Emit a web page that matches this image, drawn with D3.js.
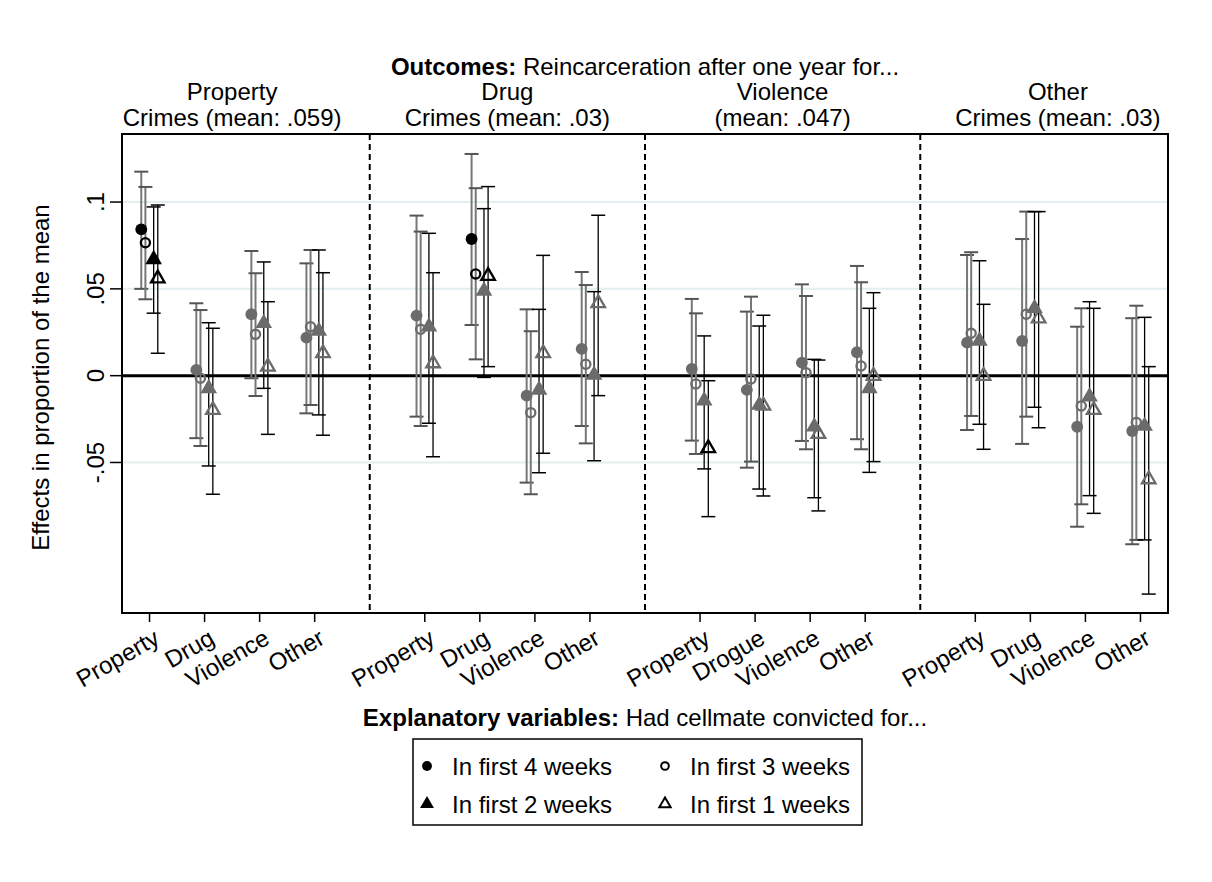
<!DOCTYPE html>
<html lang="en">
<head>
    <meta charset="UTF-8">
    <title>Cellmate effects on reincarceration</title>
    <style>
        body {
            margin: 0;
            background-color: #fff;
        }
        svg text {
            font-family: "Liberation Sans", Arial, Helvetica, sans-serif;
            fill: #000;
        }
    </style>
    <script src="https://d3js.org/d3.v7.min.js"></script>
</head>
<body>
    <svg id="chart" width="1212" height="882"></svg>
    <script>
        // Outcome panels (two title lines each)
        const outcomes = [
            ["Property", "Crimes (mean: .059)"],
            ["Drug", "Crimes (mean: .03)"],
            ["Violence", "(mean: .047)"],
            ["Other", "Crimes (mean: .03)"]
        ];

        // Explanatory variable labels, per panel
        const explanatory = [
            ["Property", "Drug", "Violence", "Other"],
            ["Property", "Drug", "Violence", "Other"],
            ["Property", "Drogue", "Violence", "Other"],
            ["Property", "Drug", "Violence", "Other"]
        ];

        const seriesNames = ["In first 4 weeks", "In first 3 weeks", "In first 2 weeks", "In first 1 weeks"];

        // Point estimates and confidence bounds, 16 per series (panel by panel)
        const est4 = [0.0843, 0.0033, 0.0354, 0.0219, 0.0346, 0.0787, -0.0115, 0.0154, 0.0039, -0.0082, 0.0075, 0.0135, 0.019, 0.02, -0.0294, -0.0319];
        const lo4 = [0.050, -0.036, -0.0015, -0.0217, -0.0236, 0.0292, -0.0616, -0.029, -0.0374, -0.053, -0.0376, -0.0366, -0.0313, -0.0393, -0.087, -0.0971];
        const hi4 = [0.1175, 0.0417, 0.0718, 0.0647, 0.0922, 0.1277, 0.0382, 0.0597, 0.0442, 0.0369, 0.0526, 0.0632, 0.0695, 0.0787, 0.0282, 0.0331];

        const est3 = [0.0766, -0.0015, 0.0238, 0.0282, 0.0267, 0.0586, -0.0213, 0.0066, -0.0048, -0.0019, 0.0017, 0.0056, 0.0244, 0.0354, -0.0175, -0.0269];
        const lo3 = [0.044, -0.0405, -0.0117, -0.0169, -0.029, 0.0094, -0.0683, -0.039, -0.0451, -0.0495, -0.0424, -0.0424, -0.0232, -0.0236, -0.0741, -0.0946];
        const hi3 = [0.1087, 0.0378, 0.059, 0.0724, 0.083, 0.108, 0.0256, 0.0522, 0.0359, 0.0455, 0.0459, 0.0538, 0.0711, 0.0945, 0.0388, 0.0403];

        const est2 = [0.067, -0.0073, 0.0302, 0.0257, 0.0282, 0.0488, -0.0082, 0.0004, -0.0144, -0.0169, -0.0294, -0.0073, 0.02, 0.0388, -0.0121, -0.029];
        const lo2 = [0.036, -0.052, -0.0073, -0.0226, -0.0274, -0.001, -0.0559, -0.049, -0.0537, -0.0653, -0.0703, -0.0557, -0.028, -0.0182, -0.0691, -0.0946];
        const hi2 = [0.0972, 0.0305, 0.0655, 0.0724, 0.082, 0.0962, 0.0382, 0.0484, 0.0229, 0.0286, 0.0094, 0.0388, 0.0662, 0.0945, 0.0426, 0.0336];

        const est1 = [0.056, -0.0198, 0.0052, 0.0129, 0.0071, 0.0574, 0.0129, 0.0417, -0.0418, -0.0173, -0.0336, -0.0002, -0.0002, 0.033, -0.0198, -0.0597];
        const lo1 = [0.0129, -0.0683, -0.0338, -0.0343, -0.0467, 0.0052, -0.0447, -0.0115, -0.0812, -0.0693, -0.0779, -0.0495, -0.0424, -0.03, -0.0793, -0.1258];
        const hi1 = [0.0983, 0.0273, 0.0426, 0.0593, 0.0593, 0.1089, 0.0693, 0.0924, -0.0029, 0.0348, 0.009, 0.0478, 0.0411, 0.0945, 0.0388, 0.0052];

        const yTicks = [-0.05, 0, 0.05, 0.1];
        const yTickLabels = ["-.05", "0", ".05", ".1"];

        const svg = d3.select("#chart");
        const plotLeft = 122, plotRight = 1168, plotTop = 134, plotBottom = 613;
        const grey = "#6b6b6b";
        const fontSize = 24;

        const x = d3.scaleLinear().domain([0.5, 19.5]).range([plotLeft, plotRight]);
        const y = d3.scaleLinear().domain([-0.1367, 0.1392]).range([plotBottom, plotTop]);

        // group positions: 1-4, 6-9, 11-14, 16-19
        const pos = d3.range(16).map(i => Math.floor(i / 4) * 5 + (i % 4) + 1);
        const offsets = [-0.15, -0.075, 0.075, 0.15];

        const series = [
            { name: seriesNames[0], est: est4, lo: lo4, hi: hi4, shape: "circle", filled: true },
            { name: seriesNames[1], est: est3, lo: lo3, hi: hi3, shape: "circle", filled: false },
            { name: seriesNames[2], est: est2, lo: lo2, hi: hi2, shape: "triangle", filled: true },
            { name: seriesNames[3], est: est1, lo: lo1, hi: hi1, shape: "triangle", filled: false }
        ];

        // gridlines
        svg.append("g").selectAll("line")
            .data(yTicks.filter(d => d !== 0))
            .join("line")
            .attr("x1", plotLeft).attr("x2", plotRight)
            .attr("y1", d => y(d)).attr("y2", d => y(d))
            .attr("stroke", "#e3eef0").attr("stroke-width", 2);

        // zero line
        svg.append("line")
            .attr("x1", plotLeft).attr("x2", plotRight)
            .attr("y1", y(0)).attr("y2", y(0))
            .attr("stroke", "#000").attr("stroke-width", 3);

        // panel dividers
        svg.append("g").selectAll("line")
            .data([5, 10, 15])
            .join("line")
            .attr("x1", d => x(d)).attr("x2", d => x(d))
            .attr("y1", plotTop).attr("y2", plotBottom)
            .attr("stroke", "#000").attr("stroke-width", 2)
            .attr("stroke-dasharray", "6,4");

        // error bars
        const capHalf = 7;
        series.forEach((s, si) => {
            const thick = si < 2;
            const g = svg.append("g");
            const rows = d3.range(16).map(i => ({ x: x(pos[i] + offsets[si]), lo: s.lo[i], hi: s.hi[i] }));
            g.selectAll("line.bar").data(rows).join("line")
                .attr("class", "bar")
                .attr("x1", d => d.x).attr("x2", d => d.x)
                .attr("y1", d => y(d.lo)).attr("y2", d => y(d.hi))
                .attr("stroke", thick ? "#777" : "#000")
                .attr("stroke-width", thick ? 2 : 1.3);
            ["lo", "hi"].forEach(k => {
                g.selectAll("line.cap" + k).data(rows).join("line")
                    .attr("class", "cap" + k)
                    .attr("x1", d => d.x - capHalf).attr("x2", d => d.x + capHalf)
                    .attr("y1", d => y(d[k])).attr("y2", d => y(d[k]))
                    .attr("stroke", thick ? "#555" : "#000")
                    .attr("stroke-width", thick ? 2 : 1.5);
            });
        });

        // markers
        function markerPath(shape, filled, scale) {
            if (shape === "circle") {
                return d3.symbol().type(d3.symbolCircle).size((filled ? 110 : 66) * scale)();
            }
            return d3.symbol().type(d3.symbolTriangle).size((filled ? 120 : 80) * scale)();
        }

        series.forEach((s, si) => {
            const rows = d3.range(16).map(i => ({
                x: x(pos[i] + offsets[si]),
                v: s.est[i],
                sig: s.lo[i] > 0 || s.hi[i] < 0
            }));
            svg.append("g").selectAll("path").data(rows).join("path")
                .attr("transform", d => `translate(${d.x},${y(d.v)})`)
                .attr("d", markerPath(s.shape, s.filled, 1))
                .attr("fill", d => s.filled ? (d.sig ? "#000" : grey) : "none")
                .attr("stroke", d => s.filled ? "none" : (d.sig ? "#000" : grey))
                .attr("stroke-width", 2.3);
        });

        // frame
        svg.append("rect")
            .attr("x", plotLeft).attr("y", plotTop)
            .attr("width", plotRight - plotLeft).attr("height", plotBottom - plotTop)
            .attr("fill", "none").attr("stroke", "#000").attr("stroke-width", 2);

        // y axis
        const yAxis = svg.append("g");
        yAxis.selectAll("line").data(yTicks).join("line")
            .attr("x1", plotLeft - 12).attr("x2", plotLeft)
            .attr("y1", d => y(d)).attr("y2", d => y(d))
            .attr("stroke", "#000").attr("stroke-width", 1.5);
        yAxis.selectAll("text").data(yTicks).join("text")
            .attr("transform", d => `translate(${plotLeft - 18},${y(d)}) rotate(-90)`)
            .attr("text-anchor", "middle")
            .attr("font-size", fontSize)
            .text((d, i) => yTickLabels[i]);

        svg.append("text")
            .attr("transform", `translate(49,${(plotTop + plotBottom) / 2 + 4}) rotate(-90)`)
            .attr("text-anchor", "middle")
            .attr("font-size", fontSize)
            .text("Effects in proportion of the mean");

        // x axis ticks and labels
        const xAxis = svg.append("g");
        xAxis.selectAll("line").data(pos).join("line")
            .attr("x1", d => x(d)).attr("x2", d => x(d))
            .attr("y1", plotBottom).attr("y2", plotBottom + 9)
            .attr("stroke", "#000").attr("stroke-width", 1.5);
        xAxis.selectAll("text").data(pos).join("text")
            .attr("transform", d => `translate(${x(d) + 3},${plotBottom + 15}) rotate(-30)`)
            .attr("text-anchor", "end")
            .attr("dy", "0.71em")
            .attr("font-size", fontSize)
            .text((d, i) => explanatory[Math.floor(i / 4)][i % 4]);

        const xTitle = svg.append("text")
            .attr("x", (plotLeft + plotRight) / 2).attr("y", 726)
            .attr("text-anchor", "middle")
            .attr("font-size", fontSize);
        xTitle.append("tspan").attr("font-weight", "bold").text("Explanatory variables:");
        xTitle.append("tspan").text(" Had cellmate convicted for...");

        // top titles
        const topTitle = svg.append("text")
            .attr("x", (plotLeft + plotRight) / 2).attr("y", 75)
            .attr("text-anchor", "middle")
            .attr("font-size", fontSize);
        topTitle.append("tspan").attr("font-weight", "bold").text("Outcomes:");
        topTitle.append("tspan").text(" Reincarceration after one year for...");

        svg.append("g").selectAll("text").data(outcomes).join("text")
            .attr("text-anchor", "middle")
            .attr("font-size", fontSize)
            .each(function(d, i) {
                const cx = x(i * 5 + 2.5);
                d3.select(this).append("tspan").attr("x", cx).attr("y", 100).text(d[0]);
                d3.select(this).append("tspan").attr("x", cx).attr("y", 126).text(d[1]);
            });

        // legend
        const legend = svg.append("g");
        legend.append("rect")
            .attr("x", 413).attr("y", 739).attr("width", 449).attr("height", 86)
            .attr("fill", "#fff").attr("stroke", "#000").attr("stroke-width", 1.5);
        const legendPos = [[427, 767], [665, 767], [427, 805], [665, 805]];
        series.forEach((s, i) => {
            const [lx, ly] = legendPos[i];
            legend.append("path")
                .attr("transform", `translate(${lx},${ly - 1})`)
                .attr("d", markerPath(s.shape, s.filled, 0.7))
                .attr("fill", s.filled ? "#000" : "none")
                .attr("stroke", s.filled ? "none" : "#000")
                .attr("stroke-width", 2);
            legend.append("text")
                .attr("x", lx + 25).attr("y", ly + 8)
                .attr("font-size", fontSize)
                .text(s.name);
        });
    </script>
</body>
</html>
